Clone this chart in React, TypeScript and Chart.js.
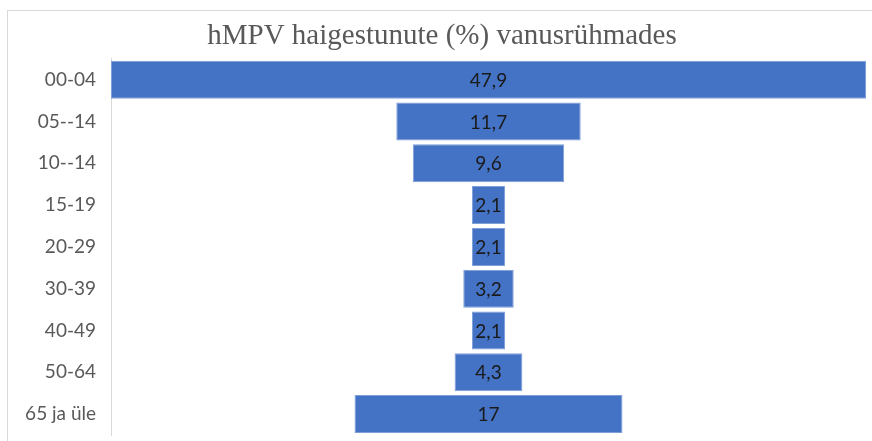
import React, { useEffect, useRef } from "react";
import { Chart, registerables } from "chart.js";

Chart.register(...registerables);

const categories = ["00-04", "05--14", "10--14", "15-19", "20-29", "30-39", "40-49", "50-64", "65 ja üle"];
const values = [47.9, 11.7, 9.6, 2.1, 2.1, 3.2, 2.1, 4.3, 17];
const titleText = "hMPV haigestunute (%) vanusrühmades";

const fmt = (v: number) => String(v).replace(".", ",");

const labelPlugin = {
  id: "funnelLabels",
  afterDatasetsDraw(chart: any) {
    const ctx = chart.ctx;
    const meta = chart.getDatasetMeta(0);
    ctx.save();
    ctx.font = "19px Lato";
    ctx.fillStyle = "#1a1a1a";
    ctx.textAlign = "center";
    ctx.textBaseline = "middle";
    meta.data.forEach((bar: any, i: number) => {
      const cx = (bar.x + bar.base) / 2;
      ctx.fillText(fmt(values[i]), cx, bar.y + 1);
    });
    ctx.restore();
  },
};

export default function App() {
  const ref = useRef<HTMLCanvasElement>(null);
  useEffect(() => {
    document.body.style.margin = "0";
    const maxV = Math.max(...values);
    const chart = new Chart(ref.current!, {
      type: "bar",
      data: {
        labels: categories,
        datasets: [
          {
            data: values.map((v) => [-v / 2, v / 2]) as any,
            backgroundColor: "#4472C4",
            borderColor: "#7f9fd8",
            borderWidth: 1,
            borderSkipped: false,
            barPercentage: 0.91,
            categoryPercentage: 1,
          },
        ],
      },
      options: {
        indexAxis: "y",
        animation: false,
        responsive: false,
        maintainAspectRatio: false,
        layout: { padding: { left: 18, right: 6, top: 0, bottom: 6 } },
        plugins: {
          legend: { display: false },
          tooltip: { enabled: false },
          title: {
            display: true,
            text: titleText,
            color: "#595959",
            font: { family: "Liberation Serif", size: 29, weight: "normal" },
            padding: { top: 19, bottom: 5 },
          },
        },
        scales: {
          x: { display: false, min: -maxV / 2, max: maxV / 2 },
          y: {
            grid: { display: false, drawTicks: false },
            border: { display: true, color: "#d9d9d9", width: 1 },
            ticks: {
              color: "#595959",
              font: { family: "Lato", size: 19 },
              padding: 15,
            },
            afterFit: (scale: any) => {
              scale.width = 93;
              scale.paddingTop = 0;
              scale.paddingBottom = 0;
            },
          },
        },
      },
      plugins: [labelPlugin],
    });
    return () => chart.destroy();
  }, []);
  return (
    <div style={{ position: "fixed", left: 0, top: 0, width: 872, height: 441, background: "#fff", overflow: "hidden" }}>
      <div
        style={{
          position: "absolute",
          left: 7,
          top: 10,
          width: 900,
          height: 460,
          border: "1px solid #d9d9d9",
          boxSizing: "border-box",
        }}
      />
      <canvas ref={ref} width={872} height={441} style={{ position: "absolute", left: 0, top: 0 }} />
    </div>
  );
}
